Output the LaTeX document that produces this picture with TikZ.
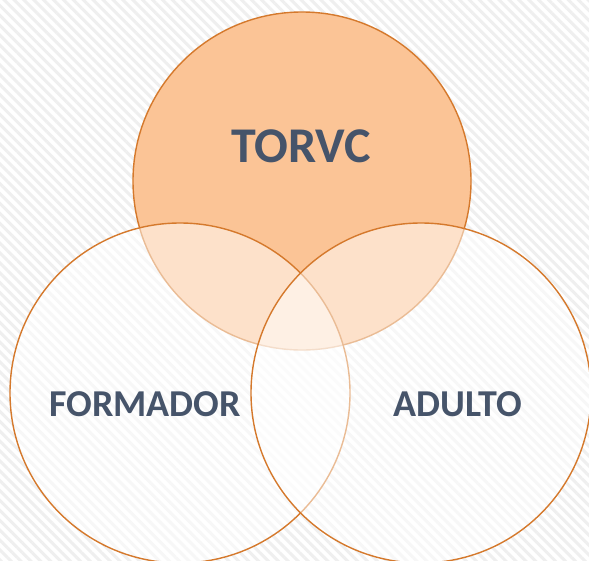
\documentclass[tikz,border=0pt]{standalone}
\usepackage{fontspec}
\setmainfont{Carlito}
\usetikzlibrary{patterns.meta}
\definecolor{ringc}{HTML}{D5792C}
\definecolor{topfill}{HTML}{FBC496}
\definecolor{txtc}{HTML}{46546A}
\definecolor{stripec}{HTML}{EFEFEF}
\tikzset{
  ring/.style={draw=ringc, line width=1.4pt},
  veil/.style={ring, fill=white, fill opacity=0.5},
  lab/.style={text=txtc, font=\bfseries\fontsize{38}{42}\selectfont, inner sep=0pt}
}
\begin{document}
\begin{tikzpicture}[x=1pt,y=-1pt]
\useasboundingbox (0,0) rectangle (589,560);
\fill[white] (0,0) rectangle (589,560);
\fill[pattern={Lines[angle=-45,distance=7pt,line width=3pt]}, pattern color=stripec] (0,0) rectangle (589,560);
\begin{scope}
\clip (0,0) rectangle (589,560);
\node[circle, minimum size=338pt, ring, fill=topfill] (top) at (302,181) {};
\node[circle, minimum size=340pt, veil] (left) at (180,393) {};
\node[circle, minimum size=340pt, veil] (right) at (421,393) {};
\end{scope}
\node[lab, font=\bfseries\fontsize{50}{56}\selectfont] (t1) at (301,146) {TORVC};
\node[lab] (t2) at (145,404) {FORMADOR};
\node[lab] (t3) at (458,404) {ADULTO};
\end{tikzpicture}
\end{document}
